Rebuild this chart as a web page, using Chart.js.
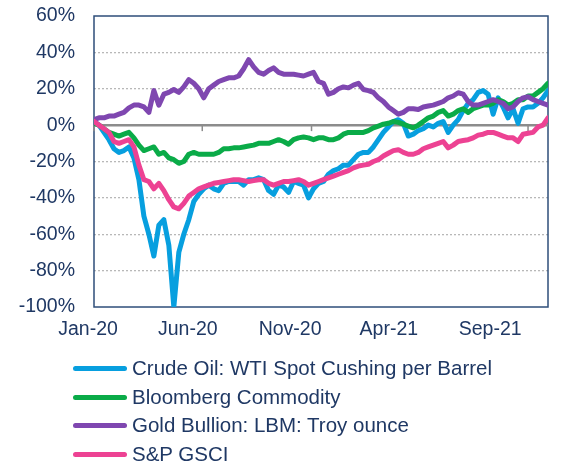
<!DOCTYPE html>
<html><head><meta charset="utf-8">
<script src="https://cdn.jsdelivr.net/npm/chart.js@4"></script>
<style>
html,body{margin:0;padding:0;background:#fff;}
#wrap{position:relative;width:561px;height:463px;}
#legend{position:absolute;left:73px;top:354px;font-family:"Liberation Sans",Arial,sans-serif;font-size:20.5px;color:#1f3864;}
.row{display:flex;align-items:center;height:28.7px;line-height:28.7px;white-space:nowrap;}
.sw{display:inline-block;width:54px;height:5px;border-radius:3px;margin-right:5px;}
</style></head><body>
<div id="wrap"><canvas id="c" width="561" height="463"></canvas><div id="legend"></div></div>
<script>
// Weekly values (% change since Jan-2020), week 0 = first week of Jan-2020
const seriesNames = ['Crude Oil: WTI Spot Cushing per Barrel','Bloomberg Commodity','Gold Bullion: LBM: Troy ounce','S&P GSCI'];
const seriesColors = ['#079fdf','#0aab48','#7f47b0','#ed4293'];

const crudeOil = [2,0,-4,-8,-13,-15,-14,-12,-18,-30,-50,-60,-72,-55,-52,-66,-100,-70,-60,-52,-42,-38,-35,-33,
  -35,-36,-32,-31,-31,-31,-33,-30,-30,-29,-30,-36,-38,-33,-34,-37,-31,-32,-33,-40,-35,-32,-31,
  -27,-25,-24,-22,-22,-19,-16,-15,-15,-12,-8,-4,-1,2,3,1,-6,-5,-3,-2,0,
  -1,1,2,-4,0,3,8,12,14,18,19,17,6,15,10,4,9,1,9,10,10,12,15,19];
const bloomberg = [1,0,-2,-4,-5,-6,-5,-4,-7,-11,-14,-13,-12,-16,-15,-18,-19,-21,-20,-16,-15,-16,-16,-16,
  -16,-15,-13,-13,-12.5,-12.5,-12,-11.5,-11,-10,-10,-10,-9,-8,-9,-10.5,-8,-7,-6.5,-7,-8,-7,-7,
  -8,-8,-7,-5,-4,-4,-4,-4,-3,-1.5,-0.5,0.5,1,2,1.5,0.5,-0.5,-1.5,0,2,4,
  5,7,8,5,6,8,9,7,9,10,11,11,12,14,13,11,12,14,14,16,16,18,20,23];
const gold = [3,4,4,5,5,6,7,9.5,11,11,10,7,19,11,17,18,19.6,18,21,25,23,20,15,20,
  22,24,25,26,26,27,31,36,32,29,28,30,31.5,29,28,28,28,27.5,27,28,29,24,23,
  17,18,20,21,20.5,22,23,19.6,19,18,15,13,10,8,6,7,9,9,8.6,10,10.5,
  11,12,13,15,16,17.8,17,13,11,11,12,13,14,13,12,9,10,13,15,15.6,14,13,12,11];
const spGsci = [2,0,-2,-4,-9,-10,-9,-8,-12,-22,-30,-31,-35,-32,-36,-41,-45,-46,-43,-39,-37,-35,-34,-33,
  -32,-31.5,-31,-30.5,-30,-30,-30.5,-31,-30.5,-30,-30,-32,-33,-32,-31,-31,-30.5,-30,-31,-33,-32,-31,-30,
  -29,-28,-27,-26,-25,-23.5,-22.5,-22,-21.5,-20,-19,-17,-15.5,-14,-13.5,-15,-16,-16,-15,-13,-12,
  -11,-10,-9,-12.5,-11,-9,-8.5,-8,-7,-5.5,-5,-4,-4,-5,-6,-7,-7,-9,-5,-4.5,-4,-1,0,4];

const xTickLabels = ['Jan-20','Jun-20','Nov-20','Apr-21','Sep-21'];
const xTickWeeks = [-1.2,18.8,39.3,59.1,79.4];      // where the axis labels sit
const zeroTickWeeks = [0,21.7,43.6,65.1,87.0];      // month tick marks on the 0% line
const yMin = -100, yMax = 60, yStep = 20;
const xMaxWeek = 91;

const allSeries = [crudeOil, bloomberg, gold, spGsci];
const TEXT = '#1f3864';
const FONT = '"Liberation Sans", Arial, sans-serif';

const framePlugin = {
  id: 'frame',
  beforeDatasetsDraw(chart) {
    const {ctx, chartArea: a, scales: {x, y}} = chart;
    ctx.save();
    ctx.strokeStyle = '#2e4e7a';
    ctx.lineWidth = 1.5;
    ctx.strokeRect(a.left, a.top, a.right - a.left, a.bottom - a.top);
    const y0 = y.getPixelForValue(0);
    ctx.strokeStyle = '#8c8c8c';
    ctx.lineWidth = 2.5;
    ctx.beginPath(); ctx.moveTo(a.left, y0); ctx.lineTo(a.right, y0); ctx.stroke();
    ctx.lineWidth = 1.5;
    zeroTickWeeks.forEach(w => {
      const px = x.getPixelForValue(w);
      ctx.beginPath(); ctx.moveTo(px, y0); ctx.lineTo(px, y0 + 6); ctx.stroke();
    });
    ctx.restore();
  }
};

const datasets = allSeries.map((s, i) => ({
  label: seriesNames[i],
  data: s.map((v, k) => ({x: k, y: v})),
  borderColor: seriesColors[i],
  backgroundColor: seriesColors[i],
  borderWidth: 5,
  pointRadius: 0,
  tension: 0,
  fill: false,
  order: allSeries.length - i,
  borderJoinStyle: 'round',
  borderCapStyle: 'round'
}));

const chart = new Chart(document.getElementById('c'), {
  type: 'line',
  data: {datasets},
  options: {
    responsive: false,
    animation: false,
    layout: {padding: {left: 0, top: 16, right: 13, bottom: 0}},
    plugins: {legend: {display: false}, tooltip: {enabled: false}},
    scales: {
      x: {
        type: 'linear', min: 0, max: xMaxWeek,
        grid: {display: false},
        border: {display: false},
        afterBuildTicks: sc => { sc.ticks = xTickWeeks.map(v => ({value: v})); },
        afterFit: sc => { sc.height = 156; },
        ticks: {
          autoSkip: false, maxRotation: 0, minRotation: 0, padding: 3,
          color: TEXT, font: {family: FONT, size: 19.5},
          callback: (v, i) => xTickLabels[i]
        }
      },
      y: {
        min: yMin, max: yMax,
        afterFit: sc => { sc.width = 94; },
        grid: {
          drawTicks: true, tickLength: 19, tickColor: 'rgba(0,0,0,0)',
          color: c => (c.tick.value === 0 || c.tick.value === yMax || c.tick.value === yMin) ? 'rgba(0,0,0,0)' : '#b8b8b8',
          lineWidth: 1.3
        },
        border: {display: false, dash: [2, 2]},
        ticks: {
          stepSize: yStep, padding: 0,
          color: TEXT, font: {family: FONT, size: 19.5},
          callback: v => v + '%'
        }
      }
    }
  },
  plugins: [framePlugin]
});

const leg = document.getElementById('legend');
chart.data.datasets.forEach(ds => {
  const row = document.createElement('div'); row.className = 'row';
  const sw = document.createElement('span'); sw.className = 'sw'; sw.style.background = ds.borderColor;
  const t = document.createElement('span'); t.textContent = ds.label;
  row.appendChild(sw); row.appendChild(t); leg.appendChild(row);
});
</script>
</body></html>
